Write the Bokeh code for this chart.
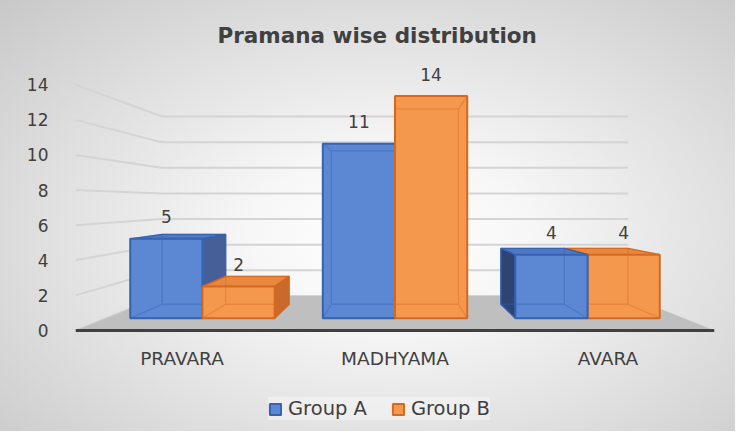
import numpy as np
from bokeh.plotting import figure
from bokeh.models import FixedTicker, Legend, LegendItem, Range1d
from bokeh.embed import file_html
from bokeh.resources import INLINE
from bokeh.core.properties import value

# ---------------- data ----------------
categories = ["PRAVARA", "MADHYAMA", "AVARA"]
series_names = ["Group A", "Group B"]
group_a = [5, 11, 4]
group_b = [2, 14, 4]
y_ticks = [0, 2, 4, 6, 8, 10, 12, 14]
chart_title = "Pramana wise distribution"

# ---------------- styling (pseudo 3-D perspective) ----------------
VPX, VPY = 1.5, 7.3            # vanishing point in front-plane data units
K_FRONT, K_BACK, K_WALL = 0.904, 0.795, 0.73
BAR_W = 0.375
Y_MAX = 15.84
Y_MIN = -5.755
FONT = "DejaVu Sans"
TXT = "#404040"

looks = [
    dict(front="#5b87d3", top="#4f77c2", right="#465f98", left="#2e4472", edge="#3563b3"),
    dict(front="#f4984e", top="#e8873f", right="#c9692b", left="#a9561f", edge="#d6691f"),
]


def P(x, y, k):
    return (VPX + (x - VPX) * k, VPY + (y - VPY) * k)


n = len(categories)
p = figure(width=735, height=431,
           x_range=Range1d(0, n), y_range=Range1d(Y_MIN, Y_MAX),
           output_backend="svg", toolbar_location=None,
           min_border_left=75, min_border_right=21,
           min_border_top=52, min_border_bottom=0,
           title=chart_title)

p.styles = {"background": "radial-gradient(ellipse farthest-corner at 53% 55%, #ffffff 0%, #f7f7f7 25%, #e0e0e0 62%, #c8c8c8 100%)"}
p.border_fill_alpha = 0
p.background_fill_alpha = 0
p.outline_line_color = None
p.xgrid.visible = False
p.ygrid.visible = False

# title
p.title.text_font = FONT
p.title.text_font_style = "bold"
p.title.text_font_size = "21.5px"
p.title.text_color = TXT
p.title.align = "left"
p.title.offset = 142
p.title.standoff = 10

# axes
p.yaxis.ticker = FixedTicker(ticks=y_ticks)
p.yaxis.axis_line_color = None
p.yaxis.major_tick_line_color = None
p.yaxis.minor_tick_line_color = None
p.yaxis.major_label_standoff = 21
p.yaxis.major_label_text_font = FONT
p.yaxis.major_label_text_font_size = "17px"
p.yaxis.major_label_text_color = TXT

cat_pos = [i + 0.5 for i in range(n)]
p.xaxis.fixed_location = 0
p.xaxis.ticker = FixedTicker(ticks=cat_pos)
p.xaxis.major_label_overrides = {pos: c for pos, c in zip(cat_pos, categories)}
p.xaxis.axis_line_color = "#404040"
p.xaxis.axis_line_width = 3
p.xaxis.major_tick_line_color = None
p.xaxis.minor_tick_line_color = None
p.xaxis.major_label_standoff = 12
p.xaxis.major_label_text_font = FONT
p.xaxis.major_label_text_font_size = "18.5px"
p.xaxis.major_label_text_color = TXT

# back wall + left wall gridlines
xl_back, y0_back = P(0.0, 0.0, K_WALL)
xr_back, _ = P(float(n), 0.0, K_WALL)
gx, gy = [], []
for t in y_ticks:
    _, yb = P(0.0, t, K_WALL)
    gx.append([0.0, xl_back, xr_back])
    gy.append([t, yb, yb])
p.multi_line(gx, gy, line_color="#d4d4d4", line_width=2)

# floor
p.patch([0.0, float(n), xr_back, xl_back], [0.0, 0.0, y0_back, y0_back],
        fill_color="#bfbfbf", line_color=None)

# bars
bars = []
for i in range(n):
    c = cat_pos[i]
    for g, vals in enumerate([group_a, group_b]):
        x0 = c - BAR_W + g * BAR_W
        bars.append((g, x0, x0 + BAR_W, vals[i]))
bars.sort(key=lambda b: -abs((b[1] + b[2]) / 2 - VPX))

front_r = {}
lab_x, lab_y, lab_t = [], [], []
for g, x0, x1, v in bars:
    lk = looks[g]
    fxs, fys, fcols = [], [], []
    faces = []
    if v < VPY:
        faces.append(([P(x0, v, K_FRONT), P(x1, v, K_FRONT), P(x1, v, K_BACK), P(x0, v, K_BACK)], lk["top"]))
    if x1 < VPX - 1e-9:
        faces.append(([P(x1, 0, K_FRONT), P(x1, v, K_FRONT), P(x1, v, K_BACK), P(x1, 0, K_BACK)], lk["right"]))
    if x0 > VPX + 1e-9:
        faces.append(([P(x0, 0, K_FRONT), P(x0, v, K_FRONT), P(x0, v, K_BACK), P(x0, 0, K_BACK)], lk["left"]))
    for pts, col in faces:
        fxs.append([q[0] for q in pts])
        fys.append([q[1] for q in pts])
        fcols.append(col)
    if fxs:
        p.patches(fxs, fys, fill_color=fcols, line_color=lk["edge"], line_width=1.3)
    (l, b), (r, t) = P(x0, 0, K_FRONT), P(x1, v, K_FRONT)
    qr = p.quad(left=[l], right=[r], bottom=[b], top=[t],
                fill_color=lk["front"], line_color=lk["edge"], line_width=2)
    front_r.setdefault(g, qr)
    # edges seen through the translucent box
    hx, hy = [], []
    back = [P(x0, 0, K_BACK), P(x1, 0, K_BACK), P(x1, v, K_BACK), P(x0, v, K_BACK), P(x0, 0, K_BACK)]
    hx.append([q[0] for q in back]); hy.append([q[1] for q in back])
    for xx in (x0, x1):
        for yy in (0, v):
            a, bb = P(xx, yy, K_FRONT), P(xx, yy, K_BACK)
            hx.append([a[0], bb[0]]); hy.append([a[1], bb[1]])
    p.multi_line(hx, hy, line_color=lk["edge"], line_alpha=0.4, line_width=1.3)
    cx, cy = P((x0 + x1) / 2, v, K_FRONT)
    lab_x.append(cx); lab_y.append(cy); lab_t.append(str(v))

p.text(x=lab_x, y=lab_y, text=lab_t, y_offset=-22, text_align="center",
       text_baseline="middle", text_font=value(FONT), text_font_size="17px",
       text_color=TXT)

legend = Legend(items=[LegendItem(label=series_names[g], renderers=[front_r[g]]) for g in range(2)],
                location=(193, 11), orientation="horizontal",
                glyph_width=14, glyph_height=14, label_standoff=6, spacing=24,
                padding=6, margin=0, border_line_color=None,
                background_fill_color="white", background_fill_alpha=0.35,
                label_text_font=FONT, label_text_font_size="19.5px",
                label_text_color=TXT)
p.add_layout(legend)

open("out.html", "w").write(file_html(p, INLINE))
